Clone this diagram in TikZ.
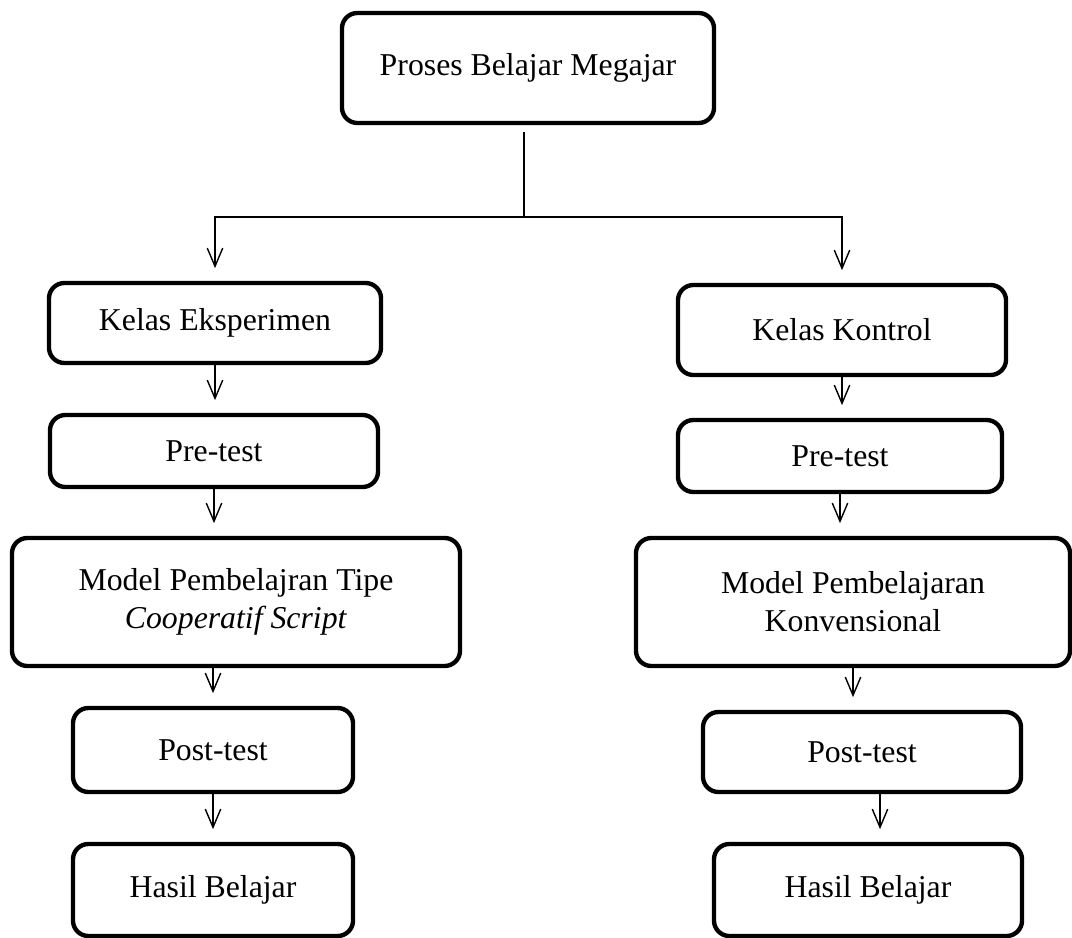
\documentclass[tikz,border=0pt]{standalone}
\usepackage{fontspec}
\setmainfont{Liberation Serif}
\usetikzlibrary{arrows.meta}

\tikzset{
    box/.style={draw, line width=3.1pt, rounded corners=11pt, align=center,
        font=\fontsize{22.6}{27}\selectfont, inner sep=2pt},
    arr/.style={line width=1pt, -{Straight Barb[length=13pt,width=11pt,line width=1pt]},
        shorten >=9pt}
}

\begin{document}
\begin{tikzpicture}[x=0.025cm, y=-0.025cm]
    \useasboundingbox (0,0) rectangle (1072,938);

    % draw top node
    \node[box, minimum width=9.3cm, minimum height=2.75cm] (pbm) at (528,68) {Proses Belajar Megajar};
    \coordinate (split) at (524,217);

    % draw left column
    \node[box, minimum width=8.3cm, minimum height=2cm] (eks) at (215,323) {Kelas Eksperimen};
    \node[box, minimum width=8.2cm, minimum height=1.8cm] (preA) at (214,451) {Pre-test};
    \node[box, minimum width=11.2cm, minimum height=3.2cm] (modA) at (236,602) {Model Pembelajran Tipe\\\textit{Cooperatif Script}};
    \node[box, minimum width=7cm, minimum height=2.1cm] (postA) at (213,750) {Post-test};
    \node[box, minimum width=7cm, minimum height=2.3cm] (hasA) at (213,890) {Hasil Belajar};

    % draw right column
    \node[box, minimum width=8.2cm, minimum height=2.25cm] (kon) at (842,330) {Kelas Kontrol};
    \node[box, minimum width=8.1cm, minimum height=1.8cm] (preB) at (840,456) {Pre-test};
    \node[box, minimum width=10.85cm, minimum height=3.2cm] (modB) at (853,602) {Model Pembelajaran\\Konvensional};
    \node[box, minimum width=7.95cm, minimum height=2cm] (postB) at (862,752) {Post-test};
    \node[box, minimum width=7.7cm, minimum height=2.3cm] (hasB) at (868,890) {Hasil Belajar};

    % draw branch
    \draw[line width=1pt] ([yshift=-5pt]pbm.south -| split) -- (split);
    \draw[arr] (split) -| (eks.north);
    \draw[arr] (split) -| (kon.north);

    % draw arrows left
    \draw[arr] (eks.south) -- (eks.south |- preA.north);
    \draw[arr] (preA.south) -- (preA.south |- modA.north);
    \draw[arr] (modA.south -| postA.north) -- (postA.north);
    \draw[arr] (postA.south) -- (hasA.north);

    % draw arrows right
    \draw[arr] (kon.south) -- (kon.south |- preB.north);
    \draw[arr] (preB.south) -- (preB.south |- modB.north);
    \draw[arr] (modB.south) -- (modB.south |- postB.north);
    \draw[arr] ([xshift=0.45cm]postB.south) -- ([xshift=0.45cm]postB.south |- hasB.north);
\end{tikzpicture}
\end{document}
